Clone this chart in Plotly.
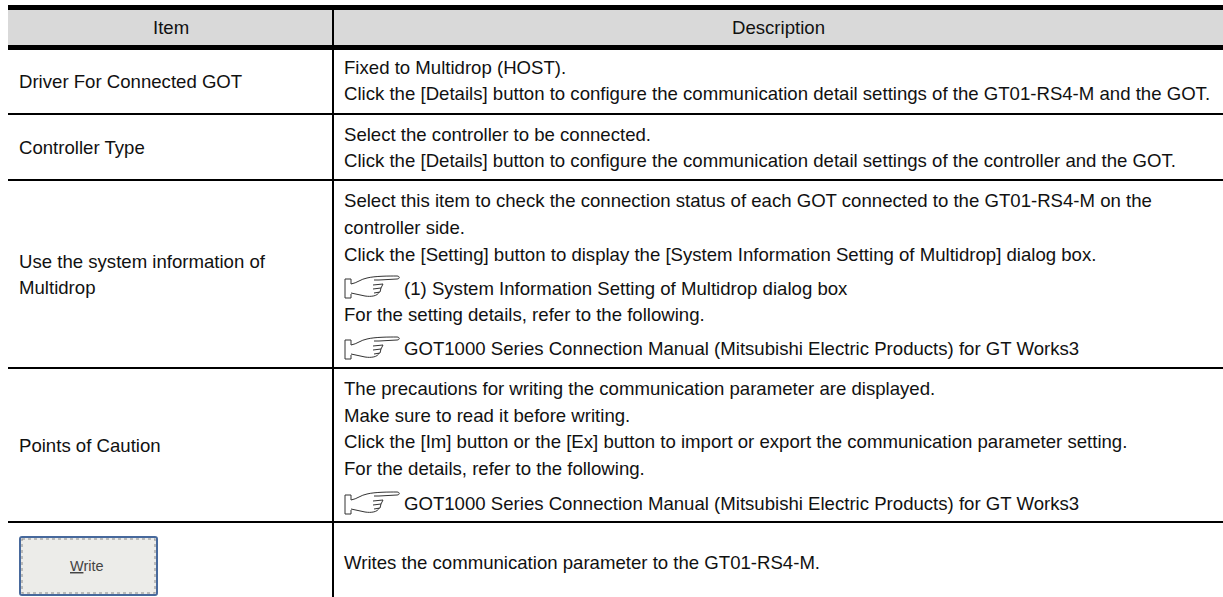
import plotly.graph_objects as go

WIDTH, HEIGHT = 1223, 597
LEFT, DIVIDER, RIGHT = 8, 333, 1223
HEADER_TOP, HEADER_BOTTOM = 7.5, 47.5
ROW_RULES = [114, 180, 368, 522]
FONT_SIZE = 18.6

headers = ["Item", "Description"]
items = [
    ("Driver For Connected GOT", 81),
    ("Controller Type", 147),
    ("Use the system information of", 261),
    ("Multidrop", 287),
    ("Points of Caution", 445),
]
desc_lines = [
    (343, 67, "Fixed to Multidrop (HOST)."),
    (343, 93, "Click the [Details] button to configure the communication detail settings of the GT01-RS4-M and the GOT."),
    (343, 134, "Select the controller to be connected."),
    (343, 160, "Click the [Details] button to configure the communication detail settings of the controller and the GOT."),
    (343, 200, "Select this item to check the connection status of each GOT connected to the GT01-RS4-M on the"),
    (343, 227, "controller side."),
    (343, 254, "Click the [Setting] button to display the [System Information Setting of Multidrop] dialog box."),
    (403, 288, "(1) System Information Setting of Multidrop dialog box"),
    (343, 314, "For the setting details, refer to the following."),
    (403, 348, "GOT1000 Series Connection Manual (Mitsubishi Electric Products) for GT Works3"),
    (343, 388, "The precautions for writing the communication parameter are displayed."),
    (343, 415, "Make sure to read it before writing."),
    (343, 441, "Click the [Im] button or the [Ex] button to import or export the communication parameter setting."),
    (343, 468, "For the details, refer to the following."),
    (403, 503, "GOT1000 Series Connection Manual (Mitsubishi Electric Products) for GT Works3"),
    (343, 562, "Writes the communication parameter to the GT01-RS4-M."),
]
hand_positions = [(345, 276), (345, 337), (345, 492)]
button_label = "<u>W</u>rite"
TEXT = "#111111"

fig = go.Figure()
shapes, notes = [], []

def rule(x0, y0, x1, y1, w):
    shapes.append(dict(type="line", x0=x0, y0=y0, x1=x1, y1=y1, line=dict(color="black", width=w), layer="above"))

def label(x, y, text, anchor="left", size=FONT_SIZE, color=TEXT):
    notes.append(dict(x=x, y=y, text=text, showarrow=False, xanchor=anchor, yanchor="middle", borderpad=0,
                      font=dict(family="Liberation Sans", size=size, color=color), align=anchor))

shapes.append(dict(type="rect", x0=LEFT, x1=RIGHT, y0=HEADER_TOP, y1=HEADER_BOTTOM,
                   fillcolor="#d9d9d9", line=dict(width=0), layer="below"))
rule(LEFT, HEADER_TOP, RIGHT, HEADER_TOP, 5)
rule(LEFT, HEADER_BOTTOM, RIGHT, HEADER_BOTTOM, 5)
for y in ROW_RULES:
    rule(LEFT, y, RIGHT, y, 2)
rule(DIVIDER, HEADER_TOP, DIVIDER, HEIGHT, 2)

label((LEFT + DIVIDER) / 2, 27, headers[0], "center")
label((DIVIDER + RIGHT) / 2, 27, headers[1], "center")
for text, y in items:
    label(18, y, text)
for x, y, text in desc_lines:
    label(x, y, text)

# pointing-hand reference icon
def hand(x, y):
    def p(dx, dy):
        return f"{x + dx},{y + dy}"
    cuff = f"M{p(6,3)} L{p(0,3)} L{p(0,22)} L{p(6,22)} L{p(6,18)} M{p(6,3)} L{p(6,8)}"
    body = (f"M{p(6,8)} C{p(12,7)} {p(16,3)} {p(22,2)} C{p(30,0)} {p(44,0)} {p(52,0)} "
            f"C{p(55,0)} {p(55,3)} {p(52,3)} L{p(34,4)} L{p(29,4)} "
            f"M{p(28,9)} L{p(38,8)} L{p(36,12)} L{p(28,13)} M{p(36,12)} L{p(35,16)} L{p(29,17)} "
            f"M{p(34,16)} C{p(33,20)} {p(26,21)} {p(20,20)} L{p(6,17)}")
    for path in (cuff, body):
        shapes.append(dict(type="path", path=path, line=dict(color="#333333", width=1), fillcolor="rgba(0,0,0,0)"))

for hx, hy in hand_positions:
    hand(hx, hy)

# Write button
shapes.append(dict(type="path",
                   path="M22,537 L155,537 Q157,537 157,539 L157,593 Q157,595 155,595 L22,595 Q20,595 20,593 L20,539 Q20,537 22,537 Z",
                   fillcolor="#ecece9", line=dict(color="#47699c", width=2)))
shapes.append(dict(type="rect", x0=22, x1=155, y0=539, y1=593, fillcolor="rgba(0,0,0,0)",
                   line=dict(color="#8a8a8a", width=1, dash="dot")))
label(87, 566, button_label, "center", size=14.5, color="#444444")

fig.add_trace(go.Scatter(x=[0, WIDTH], y=[0, HEIGHT], mode="markers", marker=dict(opacity=0),
                         hoverinfo="skip", showlegend=False))
fig.update_layout(
    width=WIDTH, height=HEIGHT, margin=dict(l=0, r=0, t=0, b=0),
    paper_bgcolor="white", plot_bgcolor="white", shapes=shapes, annotations=notes,
    xaxis=dict(range=[0, WIDTH], visible=False, fixedrange=True),
    yaxis=dict(range=[HEIGHT, 0], visible=False, fixedrange=True),
)
fig.write_html("out.html", config=dict(displayModeBar=False),
               post_script="document.body.style.margin='0';document.body.style.overflow='hidden';")
